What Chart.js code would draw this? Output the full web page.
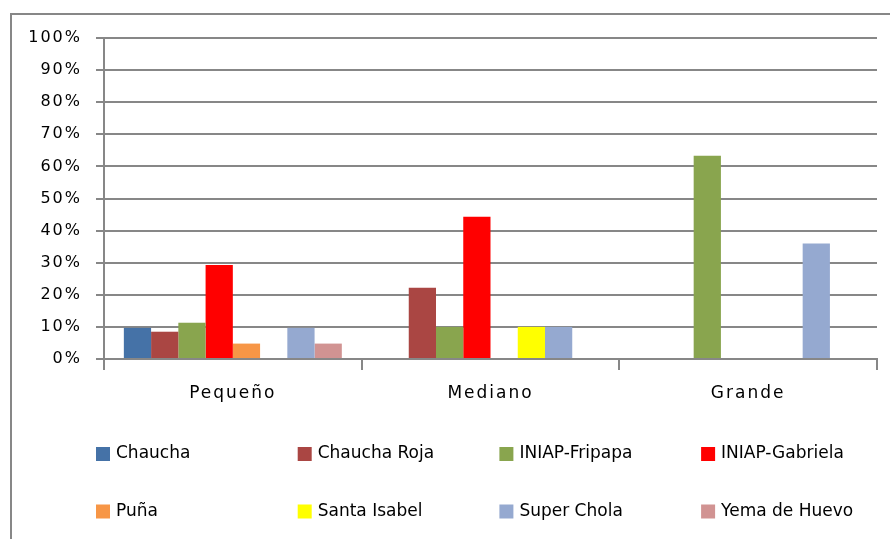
<!DOCTYPE html>
<html>
<head>
<meta charset="utf-8">
<script src="https://cdn.jsdelivr.net/npm/chart.js@4/dist/chart.umd.min.js"></script>
<style>
  html, body { margin: 0; padding: 0; background: #fff; }
  #wrap { width: 890px; height: 539px; position: relative; }
</style>
</head>
<body>
<div id="wrap"><canvas id="chart"></canvas></div>
<script>
// categorías (tamaño del tubérculo)
const categories = ['Pequeño', 'Mediano', 'Grande'];

// variedades, en el orden de la leyenda
const varieties = ['Chaucha', 'Chaucha Roja', 'INIAP-Fripapa', 'INIAP-Gabriela',
                   'Puña', 'Santa Isabel', 'Super Chola', 'Yema de Huevo'];

// porcentajes por variedad: [Pequeño, Mediano, Grande]
const chaucha      = [9.7, 0, 0];
const chauchaRoja  = [8.5, 22.2, 0];
const fripapa      = [11.3, 10.0, 63.3];
const gabriela     = [29.3, 44.3, 0];
const puna         = [4.8, 0, 0];
const santaIsabel  = [0, 10.0, 0];
const superChola   = [9.7, 10.0, 36.0];
const yemaDeHuevo  = [4.8, 0, 0];

const yTicks = [0, 10, 20, 30, 40, 50, 60, 70, 80, 90, 100];

const colors = ['#4572A7', '#AA4643', '#89A54E', '#FF0000',
                '#F79646', '#FFFF00', '#95A9D0', '#D19392'];
const seriesValues = [chaucha, chauchaRoja, fripapa, gabriela,
                      puna, santaIsabel, superChola, yemaDeHuevo];

const GRID = '#878787';

// marco exterior y espaciado de letras para los ejes
const framePlugin = {
  id: 'frame',
  beforeUpdate(chart) { chart.ctx.letterSpacing = '2px'; },
  beforeDraw(chart) {
    const ctx = chart.ctx;
    ctx.save();
    ctx.strokeStyle = GRID;
    ctx.lineWidth = 2;
    ctx.beginPath();
    ctx.moveTo(11, chart.height);
    ctx.lineTo(11, 14);
    ctx.lineTo(chart.width, 14);
    ctx.stroke();
    ctx.restore();
    ctx.letterSpacing = '2px';
  }
};

// leyenda en cuadrícula de 4 columnas x 2 filas
const gridLegend = {
  id: 'gridLegend',
  afterDraw(chart) {
    const ctx = chart.ctx;
    const left = 96, colW = 201.7, rowY = [454, 511.5], box = 14;
    ctx.save();
    ctx.letterSpacing = '0px';
    ctx.font = '17px "DejaVu Sans", sans-serif';
    ctx.textBaseline = 'middle';
    ctx.textAlign = 'left';
    chart.data.datasets.forEach((ds, i) => {
      const x = left + (i % 4) * colW;
      const y = rowY[Math.floor(i / 4)];
      ctx.fillStyle = ds.backgroundColor;
      ctx.fillRect(x, y - box / 2, box, box);
      ctx.fillStyle = '#000';
      ctx.fillText(ds.label, x + box + 6, y);
    });
    ctx.restore();
  }
};

new Chart(document.getElementById('chart'), {
  type: 'bar',
  data: {
    labels: categories,
    datasets: varieties.map((name, i) => ({
      label: name,
      data: seriesValues[i],
      backgroundColor: colors[i],
      borderWidth: 0,
      barPercentage: 1,
      categoryPercentage: 0.846
    }))
  },
  options: {
    responsive: true,
    maintainAspectRatio: false,
    animation: false,
    layout: { padding: { left: 0, right: 13, top: 38, bottom: 0 } },
    plugins: {
      legend: { display: false },
      tooltip: { enabled: false }
    },
    scales: {
      x: {
        afterFit(scale) { scale.height = 180; },
        grid: {
          offset: true,
          drawOnChartArea: false,
          drawTicks: true,
          tickLength: 11,
          color: GRID,
          lineWidth: 2
        },
        border: { color: GRID, width: 2 },
        ticks: {
          color: '#000',
          padding: 13,
          font: { family: '"DejaVu Sans", sans-serif', size: 17 }
        }
      },
      y: {
        min: 0,
        max: 100,
        afterFit(scale) { scale.width = 104; },
        afterBuildTicks(scale) { scale.ticks = yTicks.map(v => ({ value: v })); },
        grid: { color: GRID, lineWidth: 2, tickLength: 8 },
        border: { color: GRID, width: 2 },
        ticks: {
          color: '#000',
          padding: 14,
          font: { family: '"DejaVu Sans", sans-serif', size: 16 },
          callback: v => v + '%'
        }
      }
    }
  },
  plugins: [framePlugin, gridLegend]
});
</script>
</body>
</html>
